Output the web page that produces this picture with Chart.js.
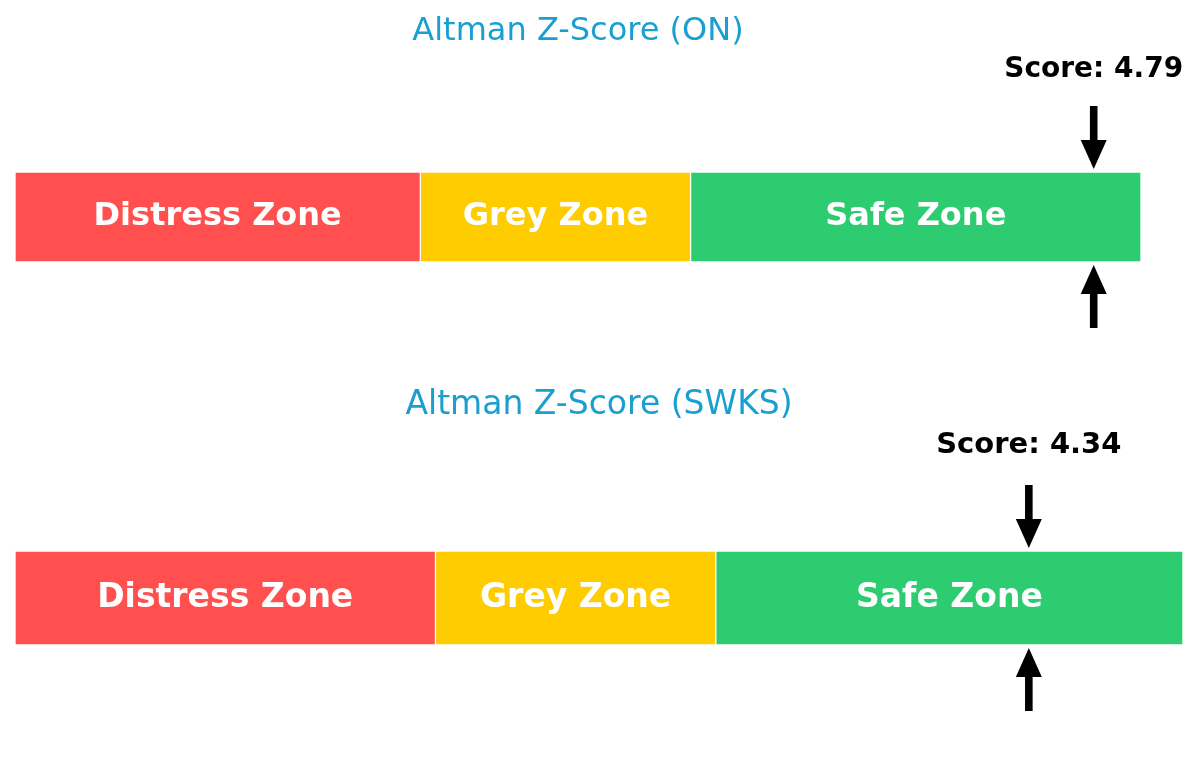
<!DOCTYPE html>
<html>
<head>
<meta charset="utf-8">
<script src="https://cdn.jsdelivr.net/npm/chart.js@4.4.1/dist/chart.umd.min.js"></script>
<style>
  html, body { margin: 0; padding: 0; background: #ffffff; }
  #wrap { position: relative; width: 1200px; height: 760px; }
  canvas { position: absolute; left: 0; }
</style>
</head>
<body>
<div id="wrap">
  <canvas id="c1" width="1200" height="380" style="top:0px"></canvas>
  <canvas id="c2" width="1200" height="380" style="top:380px"></canvas>
</div>
<script>
const tickers = ['ON', 'SWKS'];
const titles = ['Altman Z-Score (ON)', 'Altman Z-Score (SWKS)'];
const scores = [4.79, 4.34];
const zoneLabels = ['Distress Zone', 'Grey Zone', 'Safe Zone'];
const zoneWidths = [1.8, 1.2, 2.0];
const zoneColors = ['#FF4F4F', '#FFCC00', '#2ECC71'];
const axisMax = 5.0;

const overlay = {
  id: 'zOverlay',
  afterDatasetsDraw(chart, args, opts) {
    const ctx = chart.ctx;
    const xs = chart.scales.x;
    const area = chart.chartArea;
    ctx.save();
    ctx.fillStyle = '#ffffff';
    ctx.font = 'bold ' + opts.zoneFont + 'px "DejaVu Sans"';
    ctx.textAlign = 'center';
    ctx.textBaseline = 'middle';
    chart.data.datasets.forEach((ds, i) => {
      const el = chart.getDatasetMeta(i).data[0];
      ctx.fillText(ds.label, (el.x + el.base) / 2, el.y);
    });
    ctx.fillStyle = '#1A9FD0';
    ctx.font = opts.titleFont + 'px "DejaVu Sans"';
    ctx.fillText(opts.title, (area.left + area.right) / 2, opts.titleY);
    const sx = xs.getPixelForValue(opts.score);
    ctx.fillStyle = '#000000';
    ctx.font = 'bold ' + opts.scoreFont + 'px "DejaVu Sans"';
    ctx.fillText('Score: ' + opts.score.toFixed(2), sx, opts.scoreY);
    const drawArrow = (x, y0, y1) => {
      const dir = Math.sign(y1 - y0);
      const headLen = 29, headW = 13, shaft = 3.8;
      ctx.beginPath();
      ctx.moveTo(x - shaft, y0);
      ctx.lineTo(x + shaft, y0);
      ctx.lineTo(x + shaft, y1 - dir * headLen);
      ctx.lineTo(x + headW, y1 - dir * headLen);
      ctx.lineTo(x, y1);
      ctx.lineTo(x - headW, y1 - dir * headLen);
      ctx.lineTo(x - shaft, y1 - dir * headLen);
      ctx.closePath();
      ctx.fill();
    };
    drawArrow(sx, area.top - 66, area.top - 3);
    drawArrow(sx, area.bottom + 66, area.bottom + 3);
    ctx.restore();
  }
};

function makeChart(id, idx, pad, fonts) {
  const datasets = zoneLabels.map((lab, i) => ({
    label: lab,
    data: [zoneWidths[i]],
    backgroundColor: zoneColors[i],
    borderColor: '#ffffff',
    borderWidth: 1,
    borderSkipped: false,
    barPercentage: 1.0,
    categoryPercentage: 1.0
  }));
  return new Chart(document.getElementById(id), {
    type: 'bar',
    data: { labels: [tickers[idx]], datasets },
    options: {
      indexAxis: 'y',
      responsive: false,
      animation: false,
      layout: { padding: pad },
      scales: {
        x: { stacked: true, min: 0, max: axisMax, display: false },
        y: { stacked: true, display: false }
      },
      plugins: {
        legend: { display: false },
        title: { display: false },
        tooltip: { enabled: false },
        zOverlay: {
          title: titles[idx],
          score: scores[idx],
          titleY: fonts.titleY,
          scoreY: fonts.scoreY,
          titleFont: fonts.titleFont,
          scoreFont: fonts.scoreFont,
          zoneFont: fonts.zoneFont
        }
      }
    },
    plugins: [overlay]
  });
}

makeChart('c1', 0, { left: 15, right: 59, top: 172, bottom: 118 },
  { titleY: 32, scoreY: 70, titleFont: 32, scoreFont: 28, zoneFont: 32 });
makeChart('c2', 1, { left: 15, right: 17, top: 171, bottom: 115 },
  { titleY: 25, scoreY: 65, titleFont: 33, scoreFont: 29, zoneFont: 33 });
</script>
</body>
</html>
